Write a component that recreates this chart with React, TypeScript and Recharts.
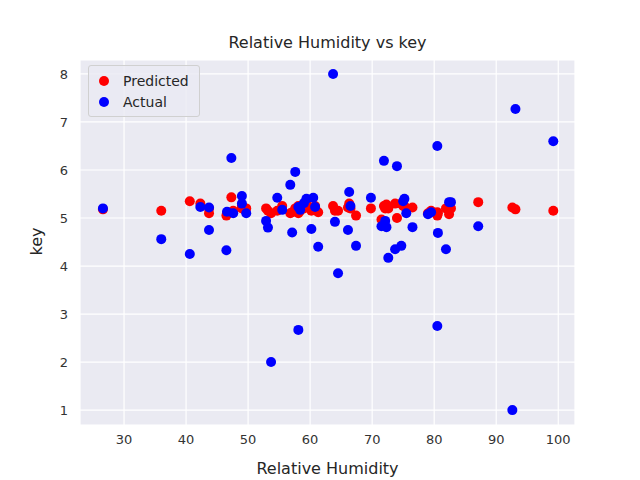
import React from "react";
import { ScatterChart, Scatter, XAxis, YAxis, CartesianGrid } from "recharts";

const humidity = [26.6,36,40.6,42.3,43.7,43.7,46.5,46.6,47.3,47.6,49,49,49.7,52.9,53.2,53.7,54.7,55.5,56.8,57.1,57.6,58.1,58.1,58.4,59,59.4,60.2,60.5,60.8,61.3,63.7,64,64.5,66.1,66.3,66.5,67.4,69.8,71.5,71.9,72.1,72.3,72.6,73.7,74,74.7,75,75.2,75.5,76.5,79,79.5,80.5,80.5,80.6,81.9,82.4,82.7,87.1,92.6,93.1,99.2];
const actual = [5.2,4.56,4.25,5.23,4.75,5.22,4.33,5.13,6.25,5.1,5.46,5.3,5.1,4.94,4.8,2.0,5.42,5.17,5.69,4.7,5.96,5.23,2.67,5.17,5.31,5.4,4.77,5.42,5.23,4.4,8.0,4.92,3.85,4.75,5.54,5.25,4.42,5.42,4.83,6.19,4.94,4.81,4.17,4.35,6.08,4.42,5.35,5.4,5.1,4.81,5.08,5.12,6.5,2.75,4.69,4.35,5.33,5.33,4.83,1.0,7.27,6.6];
const predicted = [5.18,5.15,5.35,5.3,5.1,5.2,5.05,5.1,5.43,5.15,5.2,5.25,5.2,5.2,5.15,5.1,5.15,5.25,5.1,5.12,5.2,5.1,5.25,5.15,5.2,5.3,5.15,5.2,5.25,5.12,5.25,5.15,5.15,5.22,5.3,5.2,5.05,5.2,4.97,5.25,5.2,5.28,5.2,5.3,5.0,5.3,5.25,5.25,5.2,5.22,5.1,5.15,5.12,5.05,5.1,5.2,5.08,5.2,5.33,5.22,5.18,5.15];
const xTicks = [30,40,50,60,70,80,90,100];
const yTicks = [1,2,3,4,5,6,7,8];

const predData = humidity.map((h, i) => ({ x: h, y: predicted[i] }));
const actData = humidity.map((h, i) => ({ x: h, y: actual[i] }));

const font = "DejaVu Sans, sans-serif";

const LegendBox = () => (
  <div style={{ position: "absolute", left: 88, top: 65, border: "1px solid #d0d0d0", background: "rgba(234,234,242,0.8)", borderRadius: 3, padding: "4px 10px 4px 4px", fontFamily: font, fontSize: 14, color: "#262626", width: 112, boxSizing: "border-box" }}>
    {[["Predicted", "red"], ["Actual", "blue"]].map(([n, c]) => (
      <div key={n} style={{ display: "flex", alignItems: "center", height: 21 }}>
        <span style={{ width: 10, height: 10, borderRadius: 5, background: c, display: "inline-block", margin: "0 14px 0 6px" }} />
        {n}
      </div>
    ))}
  </div>
);

export default function App() {
  return (
    <div style={{ position: "absolute", left: 0, top: 0, width: 640, height: 480, background: "#fff", fontFamily: font }}>
      <ScatterChart width={640} height={480} margin={{ top: 60, right: 65, bottom: 0, left: 0 }}>
        <CartesianGrid stroke="#fff" strokeWidth={1.2} fill="#eaeaf2" fillOpacity={1} />
        <XAxis type="number" dataKey="x" domain={[22.9, 102.7]} ticks={xTicks} axisLine={false} tickLine={false} height={55} tick={{ fill: "#333", fontSize: 13, fontFamily: font }} tickMargin={4} allowDataOverflow />
        <YAxis type="number" dataKey="y" domain={[0.69, 8.29]} ticks={yTicks} axisLine={false} tickLine={false} width={80} tick={{ fill: "#333", fontSize: 13, fontFamily: font }} tickMargin={6} allowDataOverflow />
        <Scatter name="Predicted" data={predData} fill="red" isAnimationActive={false} shape={(p: any) => <circle cx={p.cx} cy={p.cy} r={5} fill="red" />} />
        <Scatter name="Actual" data={actData} fill="blue" isAnimationActive={false} shape={(p: any) => <circle cx={p.cx} cy={p.cy} r={5} fill="blue" />} />
      </ScatterChart>
      <div style={{ position: "absolute", top: 33, left: 80, width: 495, textAlign: "center", fontSize: 16, color: "#262626" }}>Relative Humidity vs key</div>
      <div style={{ position: "absolute", top: 459, left: 80, width: 495, textAlign: "center", fontSize: 16, color: "#262626" }}>Relative Humidity</div>
      <div style={{ position: "absolute", top: 232, left: 22, fontSize: 16, color: "#262626", transform: "rotate(-90deg)" }}>key</div>
      <LegendBox />
    </div>
  );
}
